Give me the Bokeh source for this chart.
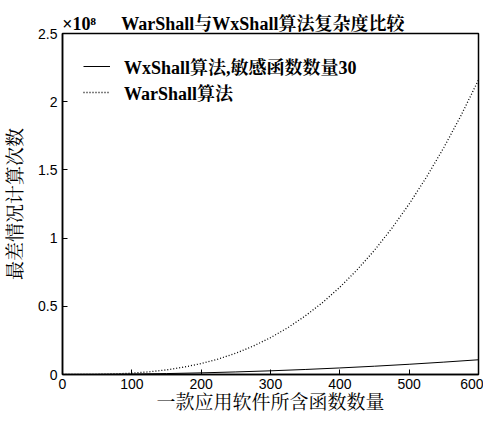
from bokeh.plotting import figure
from bokeh.models import Legend, LegendItem, FixedTicker, Range1d, LinearAxis
from bokeh.embed import file_html
from bokeh.resources import INLINE

# data (y in units of 1e8)
n_war = [0, 25, 50, 75, 100, 125, 150, 175, 200, 225, 250, 275, 300,
         325, 350, 375, 400, 425, 450, 475, 500, 525, 550, 575, 600]
warshall = [0, 0.0002, 0.0013, 0.0042, 0.01, 0.0195, 0.034, 0.054, 0.08, 0.114,
            0.156, 0.208, 0.27, 0.343, 0.429, 0.527, 0.64, 0.768, 0.911, 1.072,
            1.25, 1.447, 1.664, 1.901, 2.16]
n_wx = [0, 50, 100, 150, 200, 250, 300, 350, 400, 450, 500, 550, 600]
wxshall = [0, 0.0008, 0.003, 0.0068, 0.012, 0.0188, 0.027, 0.0368, 0.048,
           0.0608, 0.075, 0.0908, 0.108]
x_ticks = [0, 100, 200, 300, 400, 500, 600]
y_ticks = [0, 0.5, 1, 1.5, 2, 2.5]
y_tick_labels = {0: "0", 0.5: "0.5", 1: "1", 1.5: "1.5", 2: "2", 2.5: "2.5"}

title_text = "WarShall与WxShall算法复杂度比较"
exponent_text = "×10⁸"
legend_wx = "WxShall算法,敏感函数数量30"
legend_war = "WarShall算法"
x_label = "一款应用软件所含函数数量"
y_label = "最差情况计算次数"

SERIF = "'Liberation Serif', 'Noto Serif CJK SC', 'Noto Sans CJK SC', serif"
SANS = "'Liberation Sans', Arial, sans-serif"

p = figure(width=483, height=418, output_backend="svg", toolbar_location=None,
           x_range=Range1d(0, 600), y_range=Range1d(0, 2.5))
p.min_border_left = 62
p.min_border_right = 5
p.min_border_top = 33
p.min_border_bottom = 44
p.background_fill_color = "white"
p.border_fill_color = "white"
p.grid.visible = False
p.outline_line_color = "black"
p.outline_line_width = 1.5

r_wx = p.line(n_wx, wxshall, line_color="black", line_width=1)
r_war = p.line(n_war, warshall, line_color="black", line_width=1.3, line_dash="1 2")

for ax in (p.xaxis[0], p.yaxis[0]):
    ax.major_tick_in = 5
    ax.major_tick_out = 0
    ax.minor_tick_line_color = None
    ax.axis_line_color = "black"
    ax.axis_line_width = 1.5
    ax.major_tick_line_color = "black"
    ax.major_label_text_font = SANS
    ax.major_label_text_font_size = "14px"
    ax.major_label_text_color = "black"
    ax.axis_label_text_font = SERIF
    ax.axis_label_text_font_style = "normal"
    ax.axis_label_text_font_size = "19px"
    ax.axis_label_text_color = "black"

p.xaxis.ticker = FixedTicker(ticks=x_ticks)
p.yaxis.ticker = FixedTicker(ticks=y_ticks)
p.yaxis.major_label_overrides = y_tick_labels
p.xaxis.major_label_standoff = 4
p.yaxis.major_label_standoff = 5
p.xaxis.axis_label = x_label
p.yaxis.axis_label = y_label
p.xaxis.axis_label_standoff = 0
p.yaxis.axis_label_standoff = 9

# header line (exponent and title) drawn as labels of an axis above the frame
top_axis = LinearAxis(ticker=FixedTicker(ticks=[24, 289]),
                      major_label_overrides={24: exponent_text, 289: title_text},
                      axis_line_color=None, major_tick_line_color=None,
                      minor_tick_line_color=None, major_tick_in=0, major_tick_out=0,
                      major_label_standoff=0,
                      major_label_text_font=SERIF, major_label_text_font_style="bold",
                      major_label_text_font_size="18px", major_label_text_color="black")
p.add_layout(top_axis, "above")

legend = Legend(items=[LegendItem(label=legend_wx, renderers=[r_wx]),
                       LegendItem(label=legend_war, renderers=[r_war])],
                location=(21, 269), padding=0, margin=0, spacing=0,
                glyph_width=27, glyph_height=20, label_height=20,
                label_standoff=14, border_line_alpha=0, background_fill_alpha=0,
                label_text_font=SERIF, label_text_font_style="bold",
                label_text_font_size="18px", label_text_color="black")
p.add_layout(legend)

open("out.html", "w").write(file_html(p, INLINE))
